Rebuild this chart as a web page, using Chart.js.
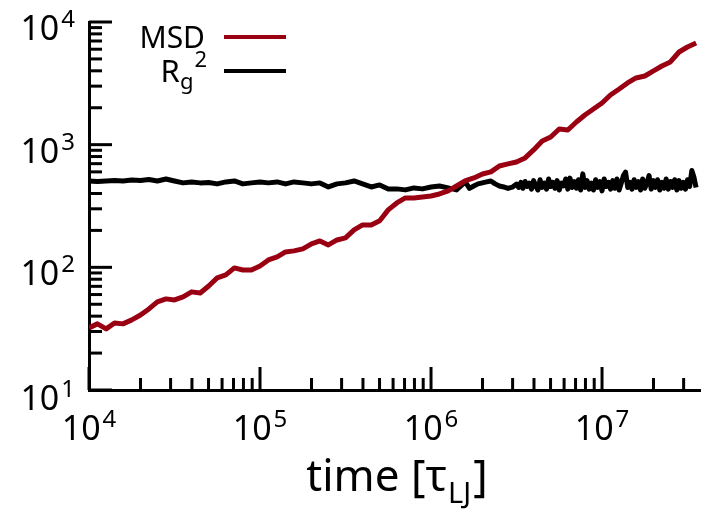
<!DOCTYPE html>
<html>
<head>
<meta charset="utf-8">
<script src="https://cdn.jsdelivr.net/npm/chart.js@4/dist/chart.umd.min.js"></script>
<style>
  html, body { margin: 0; padding: 0; background: #fff; }
  canvas { display: block; }
</style>
</head>
<body>
<canvas id="c" width="704" height="514"></canvas>
<script>
// data
const msdTime = [
  1.00e4, 1.12e4, 1.26e4, 1.41e4, 1.58e4, 1.78e4, 2.00e4, 2.24e4, 2.51e4, 2.82e4,
  3.16e4, 3.55e4, 3.98e4, 4.47e4, 5.01e4, 5.62e4, 6.31e4, 7.08e4, 7.94e4, 8.91e4,
  1.00e5, 1.12e5, 1.26e5, 1.41e5, 1.58e5, 1.78e5, 2.00e5, 2.24e5, 2.51e5, 2.82e5,
  3.16e5, 3.55e5, 3.98e5, 4.47e5, 5.01e5, 5.62e5, 6.31e5, 7.08e5, 7.94e5, 8.91e5,
  1.00e6, 1.12e6, 1.26e6, 1.41e6, 1.58e6, 1.78e6, 2.00e6, 2.24e6, 2.51e6, 2.82e6,
  3.16e6, 3.55e6, 3.98e6, 4.47e6, 5.01e6, 5.62e6, 6.31e6, 7.08e6, 7.94e6, 8.91e6,
  1.00e7, 1.12e7, 1.26e7, 1.41e7, 1.58e7, 1.78e7, 2.00e7, 2.24e7, 2.51e7, 2.82e7,
  3.16e7, 3.55e7
];
const msdValues = [
  32.1, 34.6, 31.5, 35.2, 34.6, 37.3, 40.9, 45.8, 52.3, 55.3,
  54.2, 57.4, 63.1, 61.8, 70.5, 82.0, 86.7, 98.9, 95.2, 95.2,
  102.6, 114.8, 121.6, 133.6, 136.2, 141.3, 155.2, 164.2, 152.3, 167.2,
  173.8, 201.7, 221.7, 221.7, 240.0, 293.8, 334.9, 368.1, 368.1, 374.9,
  381.9, 396.3, 419.8, 460.3, 505.8, 535.8, 576.8, 599.8, 670, 696.6,
  722.8, 779.8, 905.7, 1072, 1155, 1343, 1318, 1531, 1746, 1954,
  2188, 2541, 2844, 3184, 3499, 3631, 3990, 4378, 4721, 5693,
  6255, 6745
];
const rgTime = [
  1.00e4, 1.12e4, 1.26e4, 1.41e4, 1.58e4, 1.78e4, 2.00e4, 2.24e4, 2.51e4, 2.82e4,
  3.16e4, 3.55e4, 3.98e4, 4.47e4, 5.01e4, 5.62e4, 6.31e4, 7.08e4, 7.94e4, 8.91e4,
  1.00e5, 1.12e5, 1.26e5, 1.41e5, 1.58e5, 1.78e5, 2.00e5, 2.24e5, 2.51e5, 2.82e5,
  3.16e5, 3.55e5, 3.98e5, 4.47e5, 5.01e5, 5.62e5, 6.31e5, 7.08e5, 7.94e5, 8.91e5,
  1.00e6, 1.12e6, 1.26e6, 1.41e6,
  1.585e6, 1.679e6, 1.778e6, 1.884e6, 1.995e6, 2.113e6, 2.239e6, 2.371e6, 2.512e6, 2.661e6,
  2.818e6, 2.985e6,
  3.162e6, 3.255e6, 3.350e6, 3.448e6, 3.548e6, 3.652e6, 3.758e6, 3.868e6, 3.981e6, 4.097e6,
  4.217e6, 4.340e6, 4.467e6, 4.597e6, 4.732e6, 4.870e6, 5.012e6, 5.158e6, 5.309e6, 5.464e6,
  5.623e6, 5.788e6, 5.957e6, 6.131e6, 6.310e6, 6.494e6, 6.683e6, 6.879e6, 7.079e6, 7.286e6,
  7.499e6, 7.718e6, 7.943e6, 8.175e6, 8.414e6, 8.660e6, 8.913e6, 9.173e6, 9.441e6, 9.716e6,
  1.000e7, 1.029e7, 1.059e7, 1.090e7, 1.122e7, 1.155e7, 1.189e7, 1.223e7, 1.259e7, 1.296e7,
  1.334e7, 1.373e7, 1.413e7, 1.454e7, 1.496e7, 1.540e7, 1.585e7, 1.631e7, 1.679e7, 1.728e7,
  1.778e7, 1.830e7, 1.884e7, 1.939e7, 1.995e7, 2.054e7, 2.113e7, 2.175e7, 2.239e7, 2.304e7,
  2.371e7, 2.441e7, 2.512e7, 2.585e7, 2.661e7, 2.738e7, 2.818e7, 2.901e7, 2.985e7, 3.073e7,
  3.162e7, 3.255e7, 3.350e7, 3.448e7, 3.548e7
];
const rgValues = [
  506, 501, 506, 511, 506, 515, 511, 520, 506, 525,
  506, 488, 497, 488, 492, 479, 497, 506, 479, 488,
  497, 488, 497, 479, 497, 488, 479, 488, 452, 479,
  488, 506, 479, 452, 470, 436, 436, 428, 444, 436,
  452, 460, 444, 428,
  497, 440, 460, 479, 488, 497, 506, 479, 460, 452,
  440, 450,
  477, 448, 493, 441, 501, 456, 486, 434, 509, 462,
  427, 518, 448, 486, 434, 525, 456, 493, 441, 509,
  427, 486, 462, 525, 434, 534, 448, 501, 441, 518,
  427, 578, 448, 509, 434, 486, 427, 518, 448, 501,
  420, 525, 456, 493, 434, 509, 441, 525, 427, 486,
  560, 597, 448, 493, 434, 518, 448, 501, 427, 525,
  441, 486, 560, 434, 509, 448, 518, 427, 493, 441,
  525, 434, 501, 448, 518, 427, 509, 441, 493, 434,
  518, 456, 616, 543, 448
];

// axis ticks
const xDecades = [4, 5, 6, 7];
const yDecades = [1, 2, 3, 4];
const minorSteps = [2, 3, 4, 5, 6, 7, 8, 9];
const xMin = 1e4, xMax = 3.74e7;
const yMin = 10, yMax = 1e4;

const MSD_COLOR = "#990012";
const RG_COLOR = "#000000";
const FONT = "'Noto Sans', 'Open Sans', sans-serif";

function tickList(decades, min, max) {
  const out = [];
  decades.forEach(d => {
    out.push(Math.pow(10, d));
    minorSteps.forEach(m => out.push(m * Math.pow(10, d)));
  });
  return out.filter(v => v >= min && v <= max * 1.0001);
}

function isDecade(v) {
  const l = Math.log10(v);
  return Math.abs(l - Math.round(l)) < 1e-6;
}

// "10" with superscript exponent
function powWidth(ctx, exp) {
  ctx.font = "34px " + FONT;
  const a = ctx.measureText("10").width;
  ctx.font = "24px " + FONT;
  const b = ctx.measureText(String(exp)).width;
  return { a, b, w: a + 2 + b };
}
function drawPow(ctx, exp, left, base) {
  const m = powWidth(ctx, exp);
  ctx.textAlign = "left";
  ctx.textBaseline = "alphabetic";
  ctx.font = "34px " + FONT;
  ctx.fillText("10", left, base);
  ctx.font = "24px " + FONT;
  ctx.fillText(String(exp), left + m.a + 2, base - 13);
}

const decoPlugin = {
  id: "deco",
  afterDraw(chart) {
    const { ctx, chartArea: area } = chart;
    const xs = chart.scales.x, ys = chart.scales.y;
    ctx.save();
    ctx.strokeStyle = "#000";
    ctx.fillStyle = "#000";
    ctx.lineWidth = 3;
    ctx.lineCap = "butt";

    // inward tick marks
    xs.ticks.forEach(t => {
      const px = xs.getPixelForValue(t.value);
      const len = isDecade(t.value) ? 23 : 12;
      ctx.beginPath();
      ctx.moveTo(px, area.bottom);
      ctx.lineTo(px, area.bottom - len);
      ctx.stroke();
    });
    ys.ticks.forEach(t => {
      const py = ys.getPixelForValue(t.value);
      const len = isDecade(t.value) ? 23 : 13;
      ctx.beginPath();
      ctx.moveTo(area.left, py);
      ctx.lineTo(area.left + len, py);
      ctx.stroke();
    });

    // tick labels
    xDecades.forEach(d => {
      const px = xs.getPixelForValue(Math.pow(10, d));
      const m = powWidth(ctx, d);
      drawPow(ctx, d, px - m.w / 2, 440);
    });
    yDecades.forEach(d => {
      const py = ys.getPixelForValue(Math.pow(10, d));
      const m = powWidth(ctx, d);
      drawPow(ctx, d, 75 - m.w, py + (d === 1 ? 20 : 18));
    });

    // axis title: time [τ_LJ]
    ctx.textAlign = "left";
    ctx.font = "44px " + FONT;
    const p1 = "time [\u03c4";
    const w1 = ctx.measureText(p1).width;
    const w3 = ctx.measureText("]").width;
    ctx.font = "29px " + FONT;
    const w2 = ctx.measureText("LJ").width;
    const total = w1 + w2 + 3 + w3;
    const tx = 397 - total / 2;
    ctx.font = "44px " + FONT;
    ctx.fillText(p1, tx, 491);
    ctx.font = "29px " + FONT;
    ctx.fillText("LJ", tx + w1 + 1, 503);
    ctx.font = "44px " + FONT;
    ctx.fillText("]", tx + w1 + w2 + 3, 491);

    // legend
    const ds = chart.data.datasets;
    ctx.lineWidth = 4;
    [[ds[0], 37], [ds[1], 71]].forEach(([d, y]) => {
      ctx.strokeStyle = d.borderColor;
      ctx.beginPath();
      ctx.moveTo(224, y);
      ctx.lineTo(286, y);
      ctx.stroke();
    });
    ctx.textAlign = "right";
    ctx.font = "30px " + FONT;
    ctx.fillText(ds[0].label, 205, 48);
    // R_g^2, laid out from its right edge
    ctx.textAlign = "left";
    ctx.font = "31px " + FONT;
    const wR = ctx.measureText("R").width;
    ctx.font = "22px " + FONT;
    const wG = ctx.measureText("g").width;
    const w2s = ctx.measureText("2").width;
    const left = 207 - (wR + wG + 1 + w2s);
    ctx.font = "31px " + FONT;
    ctx.fillText("R", left, 82);
    ctx.font = "22px " + FONT;
    ctx.fillText("g", left + wR, 89);
    ctx.fillText("2", left + wR + wG + 1, 67);
    ctx.restore();
  }
};

const toPoints = (xs, ys) => xs.map((x, i) => ({ x, y: ys[i] }));

new Chart(document.getElementById("c"), {
  type: "line",
  data: {
    datasets: [
      { label: "MSD", data: toPoints(msdTime, msdValues), borderColor: MSD_COLOR, borderWidth: 5,
        borderJoinStyle: "round", pointRadius: 0, tension: 0, fill: false },
      { label: "Rg2", data: toPoints(rgTime, rgValues), borderColor: RG_COLOR, borderWidth: 5,
        borderJoinStyle: "round", pointRadius: 0, tension: 0, fill: false }
    ]
  },
  options: {
    responsive: false,
    animation: false,
    devicePixelRatio: 1,
    layout: { padding: { left: 89, right: 4, top: 22, bottom: 124 } },
    plugins: { legend: { display: false }, tooltip: { enabled: false } },
    scales: {
      x: {
        type: "logarithmic", min: xMin, max: xMax,
        grid: { display: false, drawTicks: false },
        border: { display: true, color: "#000", width: 3 },
        ticks: { display: false, autoSkip: false },
        afterBuildTicks: s => { s.ticks = tickList(xDecades, xMin, xMax).map(v => ({ value: v })); },
        afterFit: s => { s.height = 0; }
      },
      y: {
        type: "logarithmic", min: yMin, max: yMax,
        grid: { display: false, drawTicks: false },
        border: { display: true, color: "#000", width: 3 },
        ticks: { display: false, autoSkip: false },
        afterBuildTicks: s => { s.ticks = tickList(yDecades, yMin, yMax).map(v => ({ value: v })); },
        afterFit: s => { s.width = 0; }
      }
    }
  },
  plugins: [decoPlugin]
});
</script>
</body>
</html>
